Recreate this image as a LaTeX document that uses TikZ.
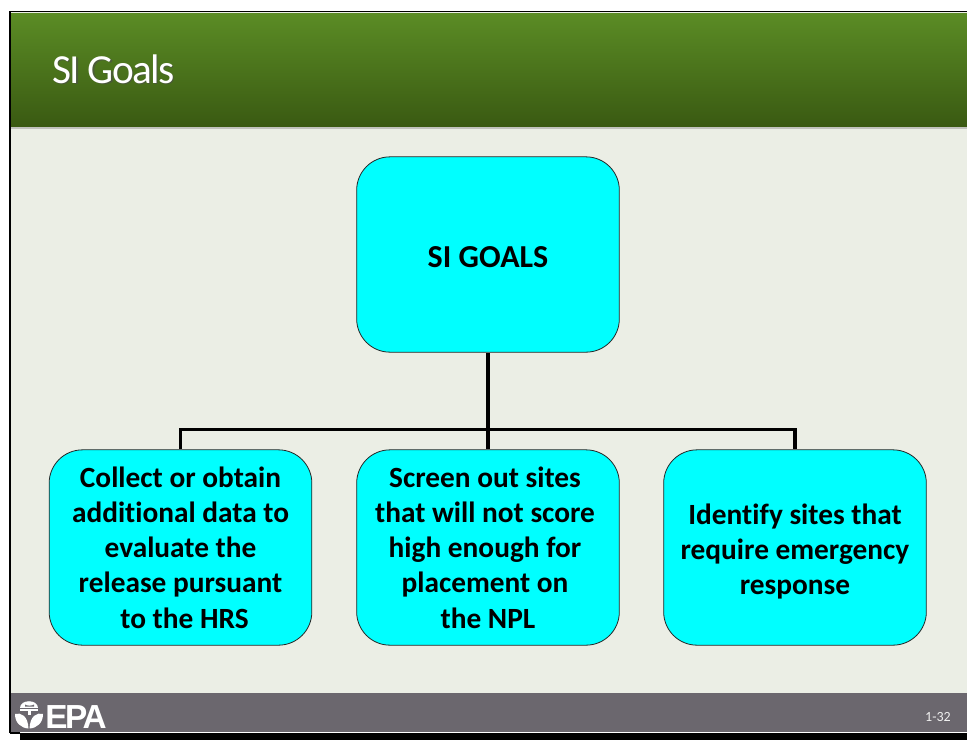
\documentclass[tikz,border=0pt]{standalone}
\usepackage{fontspec}
\setmainfont[Ligatures=NoCommon]{Carlito}
\newfontfamily\epafont{Liberation Sans}
\usetikzlibrary{shadows,calc}
\definecolor{bgc}{HTML}{EBEEE5}
\definecolor{hdt}{HTML}{5B8C25}
\definecolor{hdb}{HTML}{3A5A12}
\definecolor{ftc}{HTML}{6B676E}
\definecolor{box}{HTML}{00FFFF}
\tikzset{
 x=0.75pt,y=-0.75pt,
 goal/.style={draw=black!85,line width=0.6pt,fill=box,rounded corners=25pt,minimum width=197pt,minimum height=146.5pt,inner sep=0pt,align=center,font=\fontsize{22}{26.4}\selectfont\bfseries},
 link/.style={draw=black,line width=2.3pt},
 trunk/.style={draw=black,line width=2.8pt},
}
\newcommand{\shifted}[1]{\mbox{#1\kern4.5pt}}
\begin{document}
\begin{tikzpicture}
\useasboundingbox (0,0) rectangle (967,740);
\fill[white] (0,0) rectangle (967,740);
\fill[black] (20,733) rectangle (967,740);
\fill[bgc] (10,12) rectangle (967,693);
\draw[black,line width=1.4pt] (10,733) -- (10,11.5) -- (967,11.5);
\fill[black!55,opacity=.35] (11,126) rectangle (967,129);
\shade[top color=hdt,bottom color=hdb] (11,13) rectangle (967,126);
\fill[ftc] (11,693) rectangle (967,732);
\draw[black,line width=0.8pt] (10,733) -- (20,733);
% title
\node[anchor=base west,inner sep=0pt,text=black!70,opacity=.6,font=\fontsize{31}{34}\selectfont] (titleshadow) at (53.5,84.5) {\addfontfeature{LetterSpace=-4}SI Goals};
\node[anchor=base west,inner sep=0pt,text=white,font=\fontsize{31}{34}\selectfont] (title) at (52,83) {\addfontfeature{LetterSpace=-4}SI Goals};
% boxes
\node[goal] (top) at (488,254.5) {\fontsize{24}{26}\selectfont\bfseries\rule{0pt}{19pt}SI GOALS};
\node[goal] (a) at (180.5,547.5) {Collect or obtain\\additional data to\\evaluate the\\release pursuant\\\hspace*{6pt}to the HRS};
\node[goal] (b) at (488,547.5) {\shifted{Screen out sites}\\\shifted{that will not score}\\\shifted{high enough for}\\\shifted{placement on}\\the NPL};
\node[goal] (c) at (795,547.5) {\rule{0pt}{21.5pt}Identify sites that\\require emergency\\response};
% connectors
\coordinate (j) at (488,429.5);
\draw[trunk] (top.south) -- (j);
\draw[link] (a.north) -- (a.north |- j) -- (c.north |- j) -- (c.north);
\draw[link] (j) -- (b.north);
% footer
\node[anchor=base east,inner sep=0pt,text=white!90!ftc,font=\fontsize{10.5}{12}\selectfont] (pg) at (951,721) {1-32};
\node[anchor=base west,inner sep=0pt,text=white,font=\epafont\fontsize{25}{28}\selectfont\bfseries] (epa) at (45,728) {\addfontfeature{LetterSpace=-7}EPA};
% EPA emblem
\fill[white] (20,708) .. controls (20,698.5) and (38,698.5) .. (38,708) -- cycle;
\fill[ftc] (25,704.5) .. controls (27,706) and (32,706) .. (34,704.5) -- (34,706.5) -- (25,706.5) -- cycle;
\fill[white] (20,709) rectangle (38,711);
\fill[white] (27.5,711) rectangle (30.5,715);
\fill[white] (15,714) .. controls (21,712) and (28,716) .. (28.5,728.5) .. controls (21,728) and (15,723) .. (15,714) -- cycle;
\fill[white] (43,714) .. controls (37,712) and (30,716) .. (29.5,728.5) .. controls (37,728) and (43,723) .. (43,714) -- cycle;
\end{tikzpicture}
\end{document}
